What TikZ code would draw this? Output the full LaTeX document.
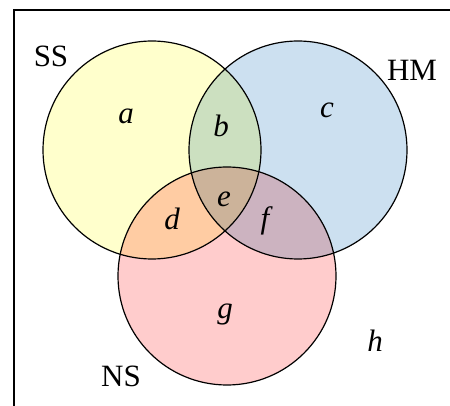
\documentclass[tikz,border=0pt]{standalone}
\usepackage{fontspec}
\setmainfont{Liberation Serif}
\definecolor{cY}{RGB}{255,255,204}
\definecolor{cB}{RGB}{204,224,240}
\definecolor{cR}{RGB}{255,204,204}
\definecolor{cYB}{RGB}{204,224,192}
\definecolor{cYR}{RGB}{255,204,163}
\definecolor{cRB}{RGB}{204,179,192}
\definecolor{cYRB}{RGB}{204,179,154}
\tikzset{
  lbl/.style={inner sep=0pt, anchor=base, font=\fontsize{31pt}{36pt}\selectfont},
  ring/.style={draw=black, line width=1.2pt},
}
\begin{document}
\begin{tikzpicture}[x=1pt,y=-1pt]
\path[use as bounding box] (0,0) rectangle (450,406);
\def\R{109}
\coordinate (ss) at (152,150);
\coordinate (hm) at (298,150);
\coordinate (ns) at (227,276);
% frame
\coordinate (fl) at (14,406);
\coordinate (ftl) at (14,10);
\coordinate (fr) at (450,10);
\draw[line width=1.3pt] (fl) -- (ftl) -- (fr);
% base fills
\fill[cY] (ss) circle (\R);
\fill[cB] (hm) circle (\R);
\fill[cR] (ns) circle (\R);
% pairwise overlaps
\begin{scope}
  \clip (ss) circle (\R);
  \fill[cYB] (hm) circle (\R);
  \fill[cYR] (ns) circle (\R);
\end{scope}
\begin{scope}
  \clip (hm) circle (\R);
  \fill[cRB] (ns) circle (\R);
\end{scope}
\begin{scope}
  \clip (ss) circle (\R);
  \clip (hm) circle (\R);
  \fill[cYRB] (ns) circle (\R);
\end{scope}
% outlines
\draw[ring] (ss) circle (\R);
\draw[ring] (hm) circle (\R);
\draw[ring] (ns) circle (\R);
% labels
\node[lbl] (tSS) at (51,67) {SS};
\node[lbl] (tHM) at (412,81) {HM};
\node[lbl] (tNS) at (121,386) {NS};
\node[lbl] (ta) at (126,124) {\itshape a};
\node[lbl] (tb) at (221,137) {\itshape b};
\node[lbl] (tc) at (327,118) {\itshape c};
\node[lbl] (td) at (172,230) {\itshape d};
\node[lbl] (te) at (224,207) {\itshape e};
\node[lbl] (tf) at (265,229) {\itshape f};
\node[lbl] (tg) at (225,318) {\itshape g};
\node[lbl] (th) at (375,351) {\itshape h};
\end{tikzpicture}
\end{document}
